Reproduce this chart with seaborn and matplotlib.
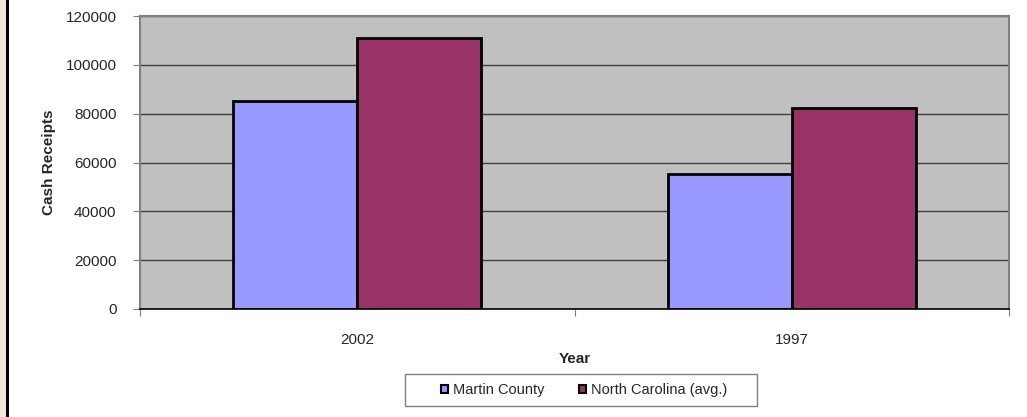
import pandas as pd
import numpy as np
import seaborn as sns
import matplotlib.pyplot as plt
from matplotlib.patches import Rectangle

years = ["2002", "1997"]
series = ["Martin County", "North Carolina (avg.)"]
martin = [85200, 55300]
nc_avg = [110900, 82500]
colors = ["#9999FF", "#993366"]

df = pd.DataFrame({
    "Year": years * 2,
    "Area": [series[0]] * 2 + [series[1]] * 2,
    "Cash Receipts": martin + nc_avg,
})

sns.set_style("white")
plt.rcParams['font.family'] = ['Liberation Sans', 'DejaVu Sans']

fig = plt.figure(figsize=(10.27, 4.17), dpi=100)
ax = fig.add_axes([140 / 1027, 1 - 309 / 417, 869 / 1027, 293 / 417])

sns.barplot(data=df, x="Year", y="Cash Receipts", hue="Area", order=years,
            hue_order=series, palette=colors, width=0.57, saturation=1,
            edgecolor="black", linewidth=2, ax=ax, legend=False)

ax.set_facecolor("#C0C0C0")
ax.set_xlim(-0.5, 1.5)
ax.set_ylim(0, 120000)
ax.set_yticks(np.arange(0, 120001, 20000))
ax.set_yticklabels([str(v) for v in range(0, 120001, 20000)], fontsize=11)
ax.yaxis.grid(True, color="#404040", linewidth=1)
ax.set_axisbelow(True)
for s in ["top", "right", "left"]:
    ax.spines[s].set_color("#808080")
    ax.spines[s].set_linewidth(1.5)
ax.spines["bottom"].set_color("black")
ax.spines["bottom"].set_linewidth(1.2)

ax.tick_params(axis="y", left=True, length=5, color="#808080", pad=12)
ax.set_xticks([-0.5, 0.5, 1.5], minor=False)
ax.set_xticklabels([])
ax.set_xticks([0, 1], minor=True)
ax.set_xticklabels(years, minor=True, fontsize=11)
ax.tick_params(axis="x", which="major", bottom=True, length=5, color="#808080")
ax.tick_params(axis="x", which="minor", bottom=False, pad=15)

ax.set_xlabel("Year", fontsize=11, fontweight="bold", labelpad=4)
ax.set_ylabel("Cash Receipts", fontsize=11, fontweight="bold", labelpad=7)

handles = [Rectangle((0, 0), 1, 1, facecolor=c, edgecolor="black", linewidth=1.5) for c in colors]
leg = fig.legend(handles, series, loc="center", bbox_to_anchor=(584 / 1027, 1 - 390 / 417),
                 ncol=2, frameon=False, fontsize=10.5,
                 handlelength=0.5, handleheight=0.5, handletextpad=0.3,
                 columnspacing=2.4, borderpad=0.3)

# legend box
fig.patches.append(Rectangle((405 / 1027, 1 - 406 / 417), 352 / 1027, 32 / 417,
                             transform=fig.transFigure, facecolor="white",
                             edgecolor="#808080", linewidth=1, zorder=0))

# beige strip and black line on the left edge
fig.patches.append(Rectangle((0, 0), 6 / 1027, 1, transform=fig.transFigure,
                             facecolor="#ECE9D8", edgecolor="none"))
fig.patches.append(Rectangle((6 / 1027, 0), 2.5 / 1027, 1, transform=fig.transFigure,
                             facecolor="black", edgecolor="none"))

fig.savefig("out.png", dpi=100)
